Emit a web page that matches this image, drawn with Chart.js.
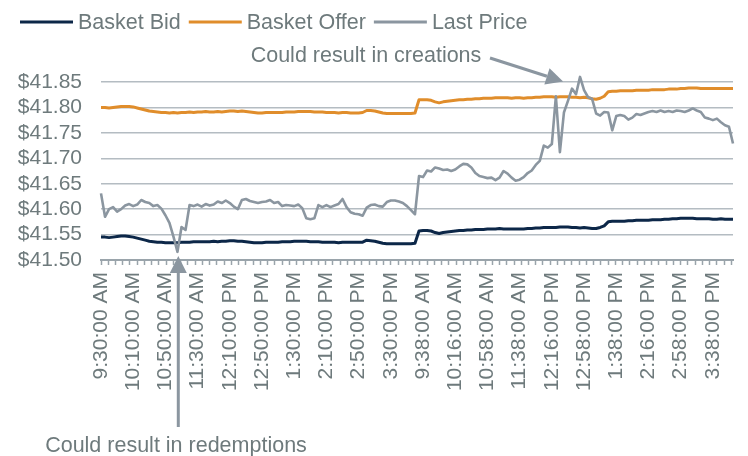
<!DOCTYPE html>
<html>
<head>
<meta charset="utf-8">
<script src="https://cdn.jsdelivr.net/npm/chart.js@4.4.1/dist/chart.umd.min.js"></script>
<style>
  html, body { margin: 0; padding: 0; background: #fff; }
  #wrap { width: 748px; height: 456px; }
</style>
</head>
<body>
<div id="wrap"><canvas id="basketChart" width="748" height="456"></canvas></div>
<script>
// --- data: one value every 5 minutes, two trading sessions back to back ---
const STEP_MIN = 5;

const seriesNames = ['Basket Bid', 'Basket Offer', 'Last Price'];

const bidPrices = [
  // session 1
  41.545,41.545,41.544,41.545,41.546,41.547,41.547,41.546,41.545,41.543,
  41.541,41.539,41.537,41.536,41.535,41.535,41.534,41.534,41.534,41.534,
  41.535,41.535,41.535,41.536,41.536,41.536,41.536,41.536,41.537,41.536,
  41.537,41.537,41.538,41.538,41.537,41.537,41.536,41.535,41.534,41.534,
  41.534,41.535,41.535,41.535,41.535,41.536,41.536,41.536,41.537,41.537,
  41.537,41.537,41.536,41.536,41.536,41.535,41.535,41.535,41.535,41.534,
  41.535,41.535,41.535,41.535,41.535,41.535,41.539,41.538,41.537,41.535,
  41.533,41.532,41.532,41.532,41.532,41.532,41.532,41.532,41.533,
  // session 2
  41.557,41.558,41.558,41.557,41.554,41.552,41.554,41.555,41.556,41.557,
  41.558,41.558,41.559,41.559,41.560,41.560,41.560,41.561,41.561,41.561,
  41.562,41.561,41.561,41.561,41.561,41.561,41.561,41.562,41.562,41.563,
  41.563,41.564,41.564,41.564,41.564,41.565,41.565,41.565,41.564,41.564,
  41.563,41.564,41.563,41.562,41.562,41.564,41.567,41.575,41.576,41.576,
  41.576,41.576,41.577,41.577,41.578,41.578,41.578,41.578,41.579,41.579,
  41.579,41.580,41.580,41.581,41.581,41.582,41.582,41.582,41.582,41.581,
  41.581,41.581,41.581,41.580,41.580,41.581,41.580,41.580,41.580
];

const offerPrices = [
  // session 1
  41.800,41.800,41.799,41.800,41.801,41.802,41.802,41.802,41.801,41.799,
  41.797,41.795,41.793,41.792,41.791,41.790,41.790,41.789,41.790,41.789,
  41.790,41.790,41.791,41.790,41.791,41.791,41.792,41.791,41.791,41.792,
  41.791,41.792,41.793,41.793,41.792,41.793,41.792,41.791,41.790,41.789,
  41.789,41.790,41.790,41.790,41.790,41.790,41.791,41.791,41.791,41.792,
  41.792,41.792,41.792,41.791,41.791,41.791,41.790,41.790,41.790,41.789,
  41.790,41.790,41.789,41.789,41.789,41.790,41.794,41.794,41.793,41.791,
  41.789,41.788,41.788,41.788,41.788,41.788,41.788,41.788,41.789,
  // session 2
  41.815,41.815,41.815,41.814,41.811,41.809,41.811,41.812,41.813,41.814,
  41.815,41.815,41.816,41.816,41.817,41.817,41.818,41.818,41.818,41.819,
  41.819,41.819,41.819,41.818,41.819,41.819,41.818,41.819,41.819,41.820,
  41.820,41.821,41.821,41.821,41.820,41.821,41.821,41.821,41.820,41.820,
  41.819,41.820,41.819,41.817,41.816,41.818,41.822,41.831,41.832,41.832,
  41.833,41.833,41.833,41.833,41.834,41.834,41.834,41.834,41.835,41.835,
  41.835,41.835,41.836,41.836,41.836,41.837,41.837,41.838,41.838,41.838,
  41.837,41.837,41.837,41.837,41.837,41.837,41.837,41.837,41.837
];

const lastPrices = [
  // session 1
  41.631,41.585,41.600,41.604,41.595,41.600,41.607,41.610,41.606,41.609,
  41.618,41.614,41.612,41.606,41.608,41.601,41.588,41.573,41.546,41.516,
  41.565,41.559,41.608,41.606,41.609,41.605,41.610,41.607,41.609,41.615,
  41.612,41.617,41.612,41.605,41.600,41.618,41.620,41.616,41.614,41.612,
  41.614,41.615,41.618,41.612,41.614,41.606,41.608,41.607,41.606,41.609,
  41.602,41.582,41.580,41.582,41.608,41.604,41.608,41.604,41.607,41.610,
  41.620,41.604,41.594,41.591,41.590,41.587,41.603,41.608,41.609,41.606,
  41.605,41.614,41.617,41.617,41.615,41.612,41.606,41.598,41.590,
  // session 2
  41.665,41.663,41.676,41.674,41.682,41.680,41.677,41.678,41.675,41.678,
  41.684,41.689,41.688,41.682,41.671,41.665,41.663,41.661,41.662,41.657,
  41.662,41.675,41.670,41.662,41.656,41.658,41.663,41.671,41.676,41.687,
  41.695,41.725,41.721,41.728,41.822,41.712,41.790,41.813,41.837,41.826,
  41.860,41.834,41.820,41.817,41.788,41.784,41.791,41.790,41.755,41.783,
  41.785,41.783,41.776,41.780,41.787,41.785,41.788,41.791,41.793,41.791,
  41.794,41.791,41.793,41.791,41.794,41.793,41.791,41.794,41.798,41.794,
  41.791,41.780,41.778,41.775,41.778,41.771,41.765,41.762,41.729
];

// one label every 40 minutes (8 points), tick marks every 9 minutes
const xTickLabels = [
  '9:30:00 AM', '10:10:00 AM', '10:50:00 AM', '11:30:00 AM', '12:10:00 PM',
  '12:50:00 PM', '1:30:00 PM', '2:10:00 PM', '2:50:00 PM', '3:30:00 PM',
  '9:38:00 AM', '10:16:00 AM', '10:58:00 AM', '11:38:00 AM', '12:16:00 PM',
  '12:58:00 PM', '1:38:00 PM', '2:16:00 PM', '2:58:00 PM', '3:38:00 PM'
];
const LABEL_EVERY_MIN = 40;
const TICK_EVERY_MIN = 9;

const yTickValues = [41.50, 41.55, 41.60, 41.65, 41.70, 41.75, 41.80, 41.85];

const noteCreations = 'Could result in creations';
const noteRedemptions = 'Could result in redemptions';

// --- styles ---
const FONT = "'Liberation Sans', Arial, sans-serif";
const FONT_SIZE = 21;
const NOTE_SIZE = 21.5;
const TEXT_GRAY = '#6e7a7c';
const GRID_GRAY = '#b4bcc2';
const AXIS_GRAY = '#9aa4ab';
const ARROW_GRAY = '#8b96a0';
const seriesColors = ['#0c2748', '#e08d2b', '#8b96a0'];

const toPoints = arr => arr.map((v, i) => ({ x: i * STEP_MIN, y: v }));

function drawArrow(c, x1, y1, x2, y2) {
  const ang = Math.atan2(y2 - y1, x2 - x1);
  const headLen = 17, headHalf = 8.5;
  const bx = x2 - headLen * Math.cos(ang), by = y2 - headLen * Math.sin(ang);
  c.strokeStyle = ARROW_GRAY;
  c.fillStyle = ARROW_GRAY;
  c.lineWidth = 3;
  c.beginPath();
  c.moveTo(x1, y1);
  c.lineTo(bx, by);
  c.stroke();
  c.beginPath();
  c.moveTo(x2, y2);
  c.lineTo(bx + headHalf * Math.sin(ang), by - headHalf * Math.cos(ang));
  c.lineTo(bx - headHalf * Math.sin(ang), by + headHalf * Math.cos(ang));
  c.closePath();
  c.fill();
}

// legend + the two callouts
const overlayPlugin = {
  id: 'overlay',
  afterDraw(chart) {
    const c = chart.ctx;
    const xs = chart.scales.x, ys = chart.scales.y;
    c.save();
    c.font = NOTE_SIZE + 'px ' + FONT;
    c.textBaseline = 'middle';
    c.textAlign = 'left';

    let lx = 20;
    chart.data.datasets.forEach(ds => {
      c.strokeStyle = ds.borderColor;
      c.lineWidth = 3;
      c.beginPath();
      c.moveTo(lx, 22);
      c.lineTo(lx + 53, 22);
      c.stroke();
      lx += 58;
      c.fillStyle = TEXT_GRAY;
      c.fillText(ds.label, lx, 23);
      lx += c.measureText(ds.label).width + 8;
    });

    // creations: arrow to the afternoon spike of session 2
    c.textAlign = 'center';
    c.fillStyle = TEXT_GRAY;
    c.fillText(noteCreations, 366, 56);
    drawArrow(c, 490, 58, xs.getPixelForValue(574), ys.getPixelForValue(41.851));

    // redemptions: arrow up to the morning dip of session 1
    c.fillStyle = TEXT_GRAY;
    c.fillText(noteRedemptions, 176, 446);
    const ax = xs.getPixelForValue(96);
    drawArrow(c, ax, 427, ax, ys.getPixelForValue(41.508));
    c.restore();
  }
};

const ctx = document.getElementById('basketChart').getContext('2d');
const basketChart = new Chart(ctx, {
  type: 'line',
  data: {
    datasets: [
      { label: seriesNames[0], data: toPoints(bidPrices), borderColor: seriesColors[0], borderWidth: 3, order: 2 },
      { label: seriesNames[1], data: toPoints(offerPrices), borderColor: seriesColors[1], borderWidth: 3, order: 1 },
      { label: seriesNames[2], data: toPoints(lastPrices), borderColor: seriesColors[2], borderWidth: 2.6, order: 0 }
    ]
  },
  options: {
    responsive: false,
    animation: false,
    events: [],
    layout: { padding: { top: 82, right: 15, left: 0, bottom: 0 } },
    elements: {
      point: { radius: 0 },
      line: { tension: 0, borderJoinStyle: 'round' }
    },
    datasets: { line: { clip: false } },
    plugins: {
      legend: { display: false },
      tooltip: { enabled: false }
    },
    scales: {
      x: {
        type: 'linear',
        min: 0,
        max: (lastPrices.length - 1) * STEP_MIN,
        afterBuildTicks: scale => {
          const vals = new Set();
          for (let m = 0; m <= scale.max; m += TICK_EVERY_MIN) vals.add(m);
          xTickLabels.forEach((_, k) => vals.add(k * LABEL_EVERY_MIN));
          scale.ticks = [...vals].sort((a, b) => a - b).map(v => ({ value: v }));
        },
        afterFit: scale => {
          scale.height = 196;
          scale.paddingLeft = 0;
          scale.paddingRight = 0;
        },
        grid: {
          display: true,
          drawOnChartArea: false,
          drawTicks: true,
          tickLength: 5,
          tickWidth: 1.5,
          tickColor: c => (c.tick && c.tick.value % TICK_EVERY_MIN === 0) ? AXIS_GRAY : 'rgba(0,0,0,0)'
        },
        border: { display: true, color: AXIS_GRAY, width: 2 },
        ticks: {
          autoSkip: false,
          minRotation: 90,
          maxRotation: 90,
          padding: 7,
          color: TEXT_GRAY,
          font: { family: FONT, size: FONT_SIZE },
          callback: v => (v % LABEL_EVERY_MIN === 0 && xTickLabels[v / LABEL_EVERY_MIN]) ? xTickLabels[v / LABEL_EVERY_MIN] : ''
        }
      },
      y: {
        min: 41.50,
        max: 41.85,
        afterBuildTicks: scale => { scale.ticks = yTickValues.map(v => ({ value: v })); },
        afterFit: scale => { scale.width = 101; },
        grid: { color: GRID_GRAY, lineWidth: 1.5, drawTicks: false },
        border: { display: false },
        ticks: {
          autoSkip: false,
          padding: 19,
          color: TEXT_GRAY,
          font: { family: FONT, size: FONT_SIZE },
          callback: v => '$' + v.toFixed(2)
        }
      }
    }
  },
  plugins: [overlayPlugin]
});
</script>
</body>
</html>
